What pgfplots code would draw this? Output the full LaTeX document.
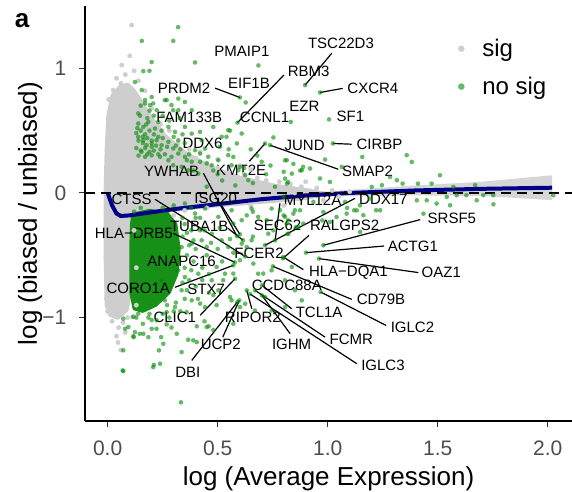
\documentclass[border=0pt]{standalone}
\usepackage{fontspec}
\setmainfont{Liberation Sans}
\usepackage{pgfplots}
\pgfplotsset{compat=1.18}
\definecolor{ptgrey}{RGB}{206,206,206}
\definecolor{ptgreen}{RGB}{0,139,0}
\definecolor{lightgreen}{RGB}{102,185,102}
\definecolor{densegreen}{RGB}{22,144,22}
\definecolor{smblue}{RGB}{0,0,139}
\definecolor{tickgrey}{RGB}{77,77,77}
\newcommand{\lab}{\fontsize{15}{18}\selectfont}
\begin{document}
\begin{tikzpicture}
\useasboundingbox (0,0) rectangle (572pt,491pt);
\node[font=\fontsize{26}{30}\selectfont\bfseries, anchor=base] at (22pt,463pt) {a};
\begin{axis}[
  at={(85pt,70pt)}, anchor=south west,
  scale only axis, width=487pt, height=415pt,
  xmin=-0.103, xmax=2.11, ymin=-1.83, ymax=1.50,
  axis x line=bottom, axis y line=left,
  axis line style={-, line width=1.5pt, black},
  xtick={0,0.5,1,1.5,2}, xticklabels={0.0,0.5,1.0,1.5,2.0},
  ytick={-1,0,1}, yticklabels={−1,0,1},
  tick align=outside, major tick length=5.5pt,
  tick style={line width=1.1pt, color=black!80},
  ticklabel style={font=\fontsize{21}{24}\selectfont, text=tickgrey, inner sep=0pt},
  xticklabel style={anchor=base, yshift=-29pt},
  yticklabel style={anchor=east, xshift=-13pt},
  xlabel={log (Average Expression)}, ylabel={log (biased / unbiased)},
  label style={font=\fontsize{26}{30}\selectfont},
  xlabel style={at={(axis description cs:0.5,-0.1566)}, anchor=base},
  ylabel style={at={(axis description cs:-0.0986,0.5)}, anchor=base},
  clip=false,
  legend style={at={(axis description cs:0.76,0.93)}, anchor=north west, draw=none, fill=none,
    font=\fontsize{24}{28}\selectfont, row sep=15pt, column sep=16pt},
  legend cell align=left,
]
% legend images
\addlegendimage{only marks, mark=*, mark size=3pt, color=ptgrey}
\addlegendentry{sig}
\addlegendimage{only marks, mark=*, mark size=3pt, color=lightgreen}
\addlegendentry{no sig}

% dense grey core
\addplot[fill=ptgrey, draw=ptgrey, line width=3pt, line join=round, forget plot] coordinates {
(-0.007,-0.903) (-0.012,-0.461) (-0.012,-0.018) (-0.007,0.343) (0.001,0.624) (0.02,0.785)
(0.056,0.857) (0.092,0.873) (0.12,0.825) (0.156,0.729) (0.201,0.6) (0.26,0.463)
(0.351,0.327) (0.465,0.214) (0.601,0.126) (0.76,0.062) (0.92,0.022) (1.01,-0.01)
(0.874,-0.051) (0.647,-0.083) (0.42,-0.115) (0.238,-0.155) (0.124,-0.187) (0.11,-0.461)
(0.106,-0.782) (0.088,-0.942) (0.047,-1.006) (0.01,-0.982)} -- cycle;

% grey points
\addplot[only marks, mark=*, mark size=2.2pt, color=ptgrey, forget plot] coordinates {
(0.109,1.347) (0.064,1.026) (0.025,0.825) (0.04,0.92) (0.08,0.95) (0.03,0.7) (0.14,0.9)
(0.12,0.98) (0.17,0.82) (0.005,0.75) (0.1,1.1) (0.06,0.88)
(0.2,0.68) (0.24,0.55) (0.28,0.5) (0.32,0.4) (0.37,0.35) (0.4,0.28) (0.45,0.24) (0.5,0.2)
(0.55,0.16) (0.62,0.15) (0.68,0.12) (0.72,0.1) (0.78,0.09) (0.83,0.07) (0.88,0.05) (0.95,0.04)
(1.02,0.02) (0.9,0.09) (0.6,0.22) (0.65,0.19) (0.5,0.27) (0.42,0.33) (0.55,0.05) (0.7,0.03)
(0.85,0.0) (1.05,-0.03) (1.1,0.01) (0.98,-0.06) (0.8,-0.1) (0.65,-0.1) (0.45,-0.12) (0.35,-0.14)
(0.3,-0.18) (0.0,-0.95) (0.02,-1.03) (0.05,-1.08) (0.07,-1.04) (0.04,-1.15) (0.047,-1.2)
(0.06,-1.26) (0.09,-1.0) (0.03,-0.98) (0.12,-0.99) (0.08,-1.12) (-0.005,-0.85) (0.13,-0.9)
(0.13,-0.6) (0.12,-0.3)};

% dense green core
\addplot[fill=densegreen, draw=densegreen, line width=3pt, line join=round, forget plot] coordinates {
(0.115,-0.17) (0.19,-0.14) (0.27,-0.16) (0.31,-0.25) (0.325,-0.45) (0.315,-0.65) (0.28,-0.8)
(0.22,-0.9) (0.16,-0.95) (0.12,-0.93) (0.105,-0.8) (0.105,-0.45) (0.108,-0.25)} -- cycle;

% green points
\addplot[only marks, mark=*, mark size=2.3pt, color=ptgreen, mark options={draw opacity=0, fill opacity=0.6}, forget plot] coordinates {
(0.155,1.22) (0.298,1.22) (0.32,1.33) (0.2,1.05) (0.162,0.977) (0.19,0.98) (0.397,1.047) (0.685,1.023)
(0.124,0.89) (0.155,0.825) (0.17,0.745) (0.207,0.718) (0.139,0.638) (0.18,0.6) (0.223,0.664)
(0.268,0.745) (0.298,0.664) (0.327,0.6) (0.42,0.49) (0.48,0.53) (0.54,0.45) (0.556,0.5) (0.51,0.37)
(0.571,0.289) (0.601,0.209) (0.627,0.726) (0.753,0.445) (0.814,0.263) (0.82,0.088) (0.42,0.316)
(0.45,0.236) (0.36,0.263) (0.39,0.18) (0.48,0.18)
(0.147,0.62) (0.17,0.718) (0.192,0.705) (0.139,0.557) (0.162,0.53) (0.185,0.57)
(0.215,0.517) (0.245,0.5) (0.276,0.53) (0.306,0.49) (0.351,0.53) (0.382,0.476) (0.139,0.45)
(0.162,0.423) (0.177,0.383) (0.2,0.397) (0.222,0.423) (0.245,0.383) (0.276,0.41) (0.298,0.357)
(0.321,0.316) (0.351,0.29) (0.382,0.25) (0.42,0.25) (0.457,0.29) (0.473,0.222) (0.503,0.262)
(0.548,0.303) (0.563,0.222) (0.594,0.182) (0.625,0.142) (0.639,0.102) (0.548,0.504) (0.518,0.45)
(0.587,0.397) (0.609,0.477) (0.427,0.423) (0.442,0.356) (0.397,0.343) (0.321,0.423) (0.154,0.33)
(0.17,0.29) (0.2,0.302) (0.238,0.29) (0.276,0.262) (0.298,0.222) (0.336,0.209) (0.366,0.182)
(0.412,0.155) (0.7,0.25) (0.806,0.262) (0.837,0.155) (0.882,0.182) (0.806,0.115) (0.2,0.77)
(0.26,0.745) (0.29,0.705) (0.321,0.757) (0.351,0.73) (0.382,0.664) (0.321,0.664)
(0.13,0.48) (0.15,0.5) (0.17,0.47) (0.19,0.5) (0.21,0.47) (0.23,0.45) (0.14,0.42) (0.16,0.4)
(0.18,0.44) (0.2,0.42) (0.22,0.38) (0.24,0.35) (0.13,0.36) (0.15,0.34) (0.17,0.36) (0.19,0.33)
(0.21,0.34) (0.23,0.31) (0.14,0.3) (0.18,0.31) (0.2,0.37) (0.16,0.45) (0.135,0.52) (0.175,0.55)
(0.25,0.44) (0.27,0.37) (0.26,0.31) (0.29,0.29) (0.31,0.38) (0.33,0.35) (0.35,0.4) (0.37,0.31)
(0.3,0.45) (0.34,0.47) (0.23,0.57) (0.25,0.62) (0.28,0.58) (0.21,0.62) (0.15,0.7) (0.19,0.66)
(0.45,0.05) (0.52,0.1) (0.58,0.06) (0.66,0.08) (0.72,0.15) (0.76,0.05) (0.5,0.15) (0.62,0.2)
(0.68,0.3) (0.74,0.22) (0.55,0.35) (0.65,0.35)
(0.601,0.766) (0.897,0.865) (0.590,0.564) (0.965,0.806) (0.832,0.57) (1.006,0.59) (1.023,0.397)
(0.715,0.397) (0.738,0.383)
(0.988,0.268) (1.157,0.289) (1.359,0.303) (1.382,0.249) (0.844,0.233) (0.888,0.209) (0.92,0.196)
(0.875,0.18) (0.965,0.116) (1.01,0.088) (1.064,0.209) (1.51,0.142) (1.2,0.048) (1.246,0.062)
(1.314,0.102) (1.34,0.075) (1.41,0.075) (1.472,0.075) (1.571,0.048) (1.67,0.062) (0.814,0.075)
(0.8,0.17) (1.283,0.129) (0.8,-0.03)
(1.405,-0.059) (1.45,-0.059) (1.495,-0.085) (1.556,-0.099) (1.586,-0.018) (1.63,-0.018)
(1.707,-0.018) (1.752,-0.018) (1.753,-0.091) (2.025,-0.018) (1.541,-0.032) (1.677,-0.059)
(1.435,-0.166) (1.238,-0.139) (1.162,-0.179) (1.132,-0.14) (1.086,-0.166) (1.04,-0.193)
(1.147,-0.313) (0.935,-0.072) (0.874,-0.139) (0.844,-0.166) (0.8,-0.18) (0.889,-0.246)
(0.98,-0.153) (1.01,-0.233) (1.22,-0.139) (1.079,-0.072) (1.192,-0.045) (1.147,-0.099)
(1.088,-0.12) (0.82,-0.22) (0.855,-0.275) (0.817,-0.329) (0.975,-0.22) (1.12,-0.139)
(0.071,-1.009) (0.094,-1.076) (0.117,-1.15) (0.071,-1.43) (0.238,-1.37) (0.21,-1.38) (0.336,-1.277)
(0.389,-1.183) (0.45,-1.076) (0.48,-1.1) (0.571,-1.049) (0.139,-0.969) (0.16,-1.05) (0.223,-1.022)
(0.268,-0.956) (0.29,-1.08) (0.314,-1.13) (0.359,-0.956) (0.42,-0.888) (0.48,-0.82) (0.495,-0.9)
(0.556,-0.835) (0.601,-0.916) (0.525,-0.7) (0.571,-0.647) (0.601,-0.54) (0.632,-0.434) (0.571,-0.48)
(0.495,-0.594) (0.45,-0.434) (0.42,-0.3) (0.51,-0.28) (0.571,-0.246) (0.632,-0.18) (0.66,-0.15)
(0.723,-0.219) (0.753,-0.3) (0.783,-0.139) (0.813,-0.246) (0.556,-0.37) (0.66,-0.35) (0.662,-0.567)
(0.707,-0.647)
(0.071,-1.263) (0.068,-1.424) (0.207,-1.398) (0.233,-1.263) (0.253,-1.21) (0.243,-1.157)
(0.185,-1.157) (0.162,-1.13) (0.2,-1.09) (0.222,-1.09) (0.146,-1.13) (0.124,-1.117) (0.079,-1.09)
(0.118,-1.157) (0.268,-1.055) (0.366,-1.178) (0.405,-1.197) (0.405,-1.07) (0.44,-1.03)
(0.459,-1.07) (0.333,-1.68) (0.114,-0.995) (0.185,-1.0)
(0.351,-0.085) (0.397,-0.165) (0.442,-0.125) (0.503,-0.192) (0.563,-0.139) (0.609,-0.219)
(0.654,-0.125) (0.684,-0.192) (0.745,-0.125) (0.806,-0.192) (0.851,-0.139) (0.867,-0.273)
(0.821,-0.327) (0.73,-0.327) (0.654,-0.38) (0.609,-0.407) (0.548,-0.434) (0.518,-0.38)
(0.473,-0.327) (0.427,-0.38) (0.382,-0.407) (0.336,-0.434) (0.321,-0.621) (0.351,-0.675)
(0.412,-0.648) (0.473,-0.701) (0.533,-0.648) (0.503,-0.781) (0.563,-0.862) (0.625,-0.889)
(0.669,-0.943) (0.715,-0.836) (0.745,-0.943) (0.806,-0.916) (0.851,-0.781) (0.882,-0.862)
(0.684,-0.648) (0.745,-0.621) (0.806,-0.701) (0.837,-0.594) (0.26,-0.862) (0.306,-0.916)
(0.382,-0.862) (0.442,-0.916) (0.336,-0.781) (0.245,-0.701)
(0.35,-0.25) (0.38,-0.3) (0.36,-0.5) (0.39,-0.55) (0.37,-0.7) (0.4,-0.75) (0.35,-0.85) (0.3,-0.95)
(0.25,-0.97) (0.2,-1.02) (0.43,-0.6) (0.4,-0.45) (0.34,-0.35) (0.45,-0.5) (0.46,-0.65) (0.42,-0.2)
(0.38,-0.12) (0.3,-0.1) (0.25,-0.12) (0.15,-0.12) (0.12,-0.15)
(0.34,-0.2) (0.36,-0.32) (0.37,-0.42) (0.35,-0.6) (0.34,-0.72) (0.31,-0.88) (0.27,-0.9)
(0.19,-0.97) (0.13,-1.0) (0.32,-0.55) (0.38,-0.62) (0.39,-0.38) (0.36,-0.78) (0.33,-0.95)
(0.28,-1.0) (0.4,-0.2) (0.44,-0.3) (0.47,-0.4) (0.43,-0.7) (0.41,-0.85) (0.46,-0.8) (0.5,-0.45)
(0.52,-0.55)
(0.588,-0.348) (0.624,-0.509) (0.601,-0.332) (0.615,-0.380) (0.578,-0.557) (0.761,-0.380)
(0.715,-0.420) (0.797,-0.525) (0.980,-0.420) (0.901,-0.479) (0.960,-0.527) (0.798,-0.514)
(0.571,-0.581) (0.579,-0.688) (0.968,-0.795) (0.751,-0.589) (0.701,-0.741) (0.632,-0.782)
(0.598,-0.862) (0.589,-0.876) (0.701,-0.822) (0.670,-0.782) (0.647,-0.811)};

% smooth confidence band
\addplot[fill={rgb,255:red,153;green,153;blue,153}, fill opacity=0.4, draw=none, forget plot] coordinates {
(0.0,0.02) (0.02,-0.08) (0.04,-0.145) (0.06,-0.165) (0.1,-0.165) (0.2,-0.143) (0.3,-0.118)
(0.5,-0.078) (0.7,-0.037) (0.9,-0.002) (1.1,0.025) (1.4,0.06) (1.7,0.09) (2.02,0.142)
(2.02,-0.058) (1.7,-0.024) (1.4,-0.02) (1.1,-0.025) (0.9,-0.038) (0.7,-0.063) (0.5,-0.102)
(0.3,-0.142) (0.2,-0.167) (0.1,-0.195) (0.06,-0.205) (0.04,-0.185) (0.02,-0.12) (0.0,-0.02)} -- cycle;
% smooth line
\addplot[smblue, line width=4pt, line join=round, forget plot] coordinates {
(0.0,0.0) (0.02,-0.1) (0.04,-0.165) (0.06,-0.185) (0.1,-0.18) (0.2,-0.155) (0.3,-0.13)
(0.5,-0.09) (0.7,-0.05) (0.9,-0.02) (1.1,0.0) (1.4,0.02) (1.7,0.033) (2.02,0.042)};
% reference line
\addplot[black, line width=1.4pt, dash pattern=on 10pt off 6pt, forget plot] coordinates {(-0.103,0) (2.11,0)};

% leader segments
\begin{scope}[line width=1.2pt]
\draw (axis cs:0.488,0.841) -- (axis cs:0.601,0.766);
\draw (axis cs:1.018,1.120) -- (axis cs:0.897,0.865);
\draw (axis cs:0.801,0.946) -- (axis cs:0.590,0.564);
\draw (axis cs:1.068,0.839) -- (axis cs:0.965,0.806);
\draw (axis cs:1.109,0.391) -- (axis cs:1.023,0.397);
\draw (axis cs:0.644,0.255) -- (axis cs:0.715,0.397);
\draw (axis cs:1.048,0.190) -- (axis cs:0.738,0.383);
\draw (axis cs:0.435,0.158) -- (axis cs:0.588,-0.348);
\draw (axis cs:0.215,-0.051) -- (axis cs:0.624,-0.509);
\draw (axis cs:0.520,-0.107) -- (axis cs:0.601,-0.332);
\draw (axis cs:0.547,-0.284) -- (axis cs:0.615,-0.380);
\draw (axis cs:0.298,-0.324) -- (axis cs:0.578,-0.557);
\draw (axis cs:0.783,-0.083) -- (axis cs:0.761,-0.380);
\draw (axis cs:1.124,-0.043) -- (axis cs:0.715,-0.420);
\draw (axis cs:0.915,-0.340) -- (axis cs:0.797,-0.525);
\draw (axis cs:1.420,-0.214) -- (axis cs:0.980,-0.420);
\draw (axis cs:1.256,-0.426) -- (axis cs:0.901,-0.479);
\draw (axis cs:1.412,-0.639) -- (axis cs:0.960,-0.527);
\draw (axis cs:0.889,-0.615) -- (axis cs:0.798,-0.514);
\draw (axis cs:0.306,-0.757) -- (axis cs:0.571,-0.581);
\draw (axis cs:0.420,-0.982) -- (axis cs:0.579,-0.688);
\draw (axis cs:1.265,-1.063) -- (axis cs:0.968,-0.795);
\draw (axis cs:1.109,-0.854) -- (axis cs:0.751,-0.589);
\draw (axis cs:0.836,-0.929) -- (axis cs:0.701,-0.741);
\draw (axis cs:0.655,-0.929) -- (axis cs:0.632,-0.782);
\draw (axis cs:0.523,-1.157) -- (axis cs:0.598,-0.862);
\draw (axis cs:0.382,-1.344) -- (axis cs:0.589,-0.876);
\draw (axis cs:0.829,-1.129) -- (axis cs:0.701,-0.822);
\draw (axis cs:0.988,-1.157) -- (axis cs:0.670,-0.782);
\draw (axis cs:1.132,-1.370) -- (axis cs:0.647,-0.811);
\end{scope}

% gene labels
\begin{scope}[every node/.style={font=\lab, inner sep=0pt}]
\node at (axis cs:0.610,1.133) {PMAIP1};
\node at (axis cs:0.347,0.843) {PRDM2};
\node at (axis cs:0.642,0.879) {EIF1B};
\node at (axis cs:1.060,1.200) {TSC22D3};
\node at (axis cs:0.913,0.972) {RBM3};
\node at (axis cs:1.205,0.839) {CXCR4};
\node at (axis cs:0.894,0.691) {EZR};
\node at (axis cs:1.103,0.618) {SF1};
\node at (axis cs:0.371,0.610) {FAM133B};
\node at (axis cs:0.713,0.608) {CCNL1};
\node at (axis cs:0.431,0.397) {DDX6};
\node at (axis cs:0.895,0.383) {JUND};
\node at (axis cs:1.235,0.391) {CIRBP};
\node at (axis cs:0.607,0.182) {KMT2E};
\node at (axis cs:1.181,0.177) {SMAP2};
\node at (axis cs:0.291,0.177) {YWHAB};
\node at (axis cs:0.109,-0.053) {CTSS};
\node at (axis cs:0.491,-0.045) {ISG20};
\node at (axis cs:0.416,-0.267) {TUBA1B};
\node at (axis cs:0.119,-0.326) {HLA−DRB5};
\node at (axis cs:0.772,-0.259) {SEC62};
\node at (axis cs:0.931,-0.059) {MYL12A};
\node at (axis cs:1.253,-0.053) {DDX17};
\node at (axis cs:1.077,-0.259) {RALGPS2};
\node at (axis cs:1.564,-0.206) {SRSF5};
\node at (axis cs:1.387,-0.426) {ACTG1};
\node at (axis cs:1.516,-0.639) {OAZ1};
\node at (axis cs:1.094,-0.639) {HLA−DQA1};
\node at (axis cs:0.688,-0.487) {FCER2};
\node at (axis cs:0.336,-0.546) {ANAPC16};
\node at (axis cs:0.139,-0.768) {CORO1A};
\node at (axis cs:0.448,-0.776) {STX7};
\node at (axis cs:0.305,-1.001) {CLIC1};
\node at (axis cs:0.814,-0.741) {CCDC88A};
\node at (axis cs:1.385,-1.076) {IGLC2};
\node at (axis cs:1.242,-0.854) {CD79B};
\node at (axis cs:0.961,-0.956) {TCL1A};
\node at (axis cs:0.660,-0.996) {RIPOR2};
\node at (axis cs:0.514,-1.215) {UCP2};
\node at (axis cs:0.364,-1.438) {DBI};
\node at (axis cs:0.836,-1.215) {IGHM};
\node at (axis cs:1.107,-1.175) {FCMR};
\node at (axis cs:1.251,-1.384) {IGLC3};
\end{scope}
\end{axis}
\end{tikzpicture}
\end{document}
